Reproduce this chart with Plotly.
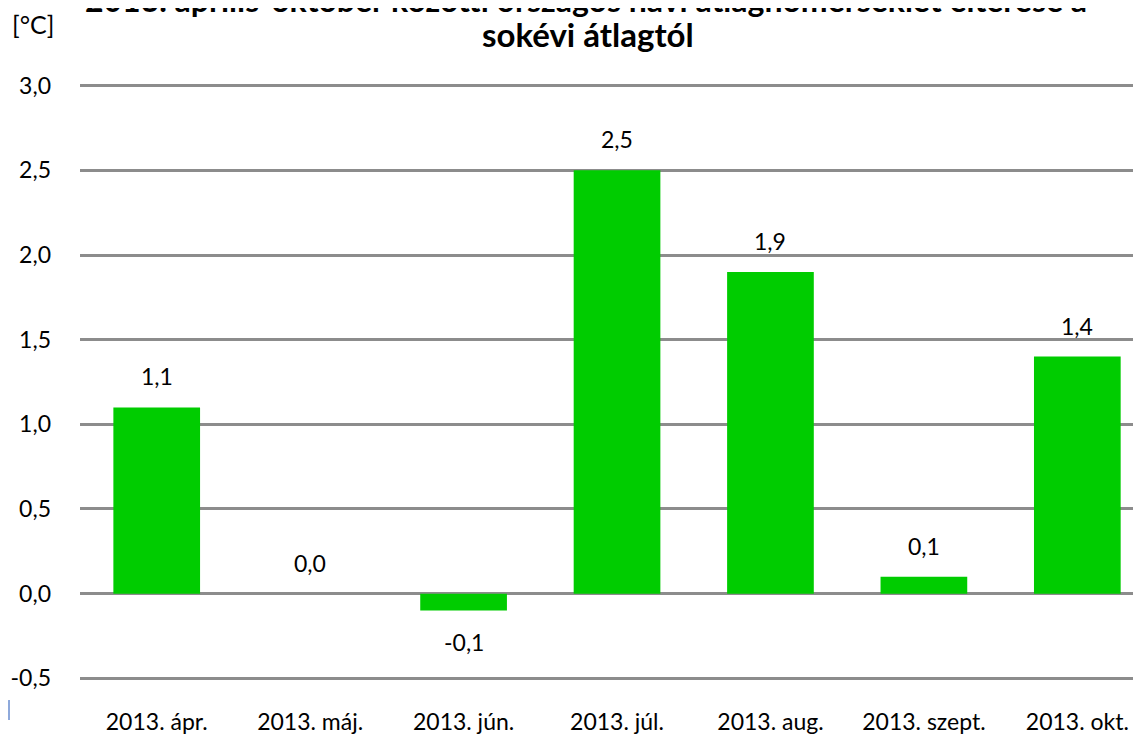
import plotly.graph_objects as go

categories = ["2013. ápr.", "2013. máj.", "2013. jún.", "2013. júl.", "2013. aug.", "2013. szept.", "2013. okt."]
values = [1.1, 0.0, -0.1, 2.5, 1.9, 0.1, 1.4]
labels = ["1,1", "0,0", "-0,1", "2,5", "1,9", "0,1", "1,4"]
y_ticks = [-0.5, 0.0, 0.5, 1.0, 1.5, 2.0, 2.5, 3.0]
y_ticktext = ["-0,5", "0,0", "0,5", "1,0", "1,5", "2,0", "2,5", "3,0"]
title_line1 = "2013. április-október közötti országos havi átlaghőmérséklet eltérése a"
title_line2 = "sokévi átlagtól"
unit_label = "[°C]"

FONT = "Lato"
GREEN = "#00CC00"
GRID = "#8C8C8C"

fig = go.Figure()
fig.add_trace(go.Bar(
    x=list(range(len(categories))), y=values,
    marker=dict(color=GREEN, line=dict(width=0)),
    width=0.565, hoverinfo="skip",
))

for i, (v, t) in enumerate(zip(values, labels)):
    if v >= 0:
        fig.add_annotation(x=i, y=v, xref="x", yref="y", text=t, showarrow=False,
                           yanchor="bottom", yshift=15,
                           font=dict(family=FONT, size=23, color="black"))
    else:
        fig.add_annotation(x=i, y=v, xref="x", yref="y", text=t, showarrow=False,
                           yanchor="top", yshift=-15,
                           font=dict(family=FONT, size=23, color="black"))

fig.add_annotation(xref="paper", yref="paper", x=0.477, y=1.0, yshift=85,
                   text="<b>" + title_line1 + "</b>",
                   showarrow=False, xanchor="center", yanchor="middle",
                   font=dict(family=FONT, size=32, color="black"))
fig.add_annotation(xref="paper", yref="paper", x=0.479, y=1.0, yshift=50,
                   text="<b>" + title_line2 + "</b>",
                   showarrow=False, xanchor="center", yanchor="middle",
                   font=dict(family=FONT, size=33, color="black"))
fig.add_annotation(xref="paper", yref="paper", x=-0.066, y=1.0, yshift=60,
                   text=unit_label, showarrow=False, xanchor="left", yanchor="middle",
                   font=dict(family=FONT, size=25, color="black"))

fig.add_shape(type="line", xref="paper", yref="paper",
              x0=-0.0669, x1=-0.0669, y0=-0.0336, y1=-0.0671,
              line=dict(color="#8EA9DB", width=2))

fig.update_layout(
    width=1133, height=731,
    margin=dict(l=72, r=0, t=76, b=59),
    paper_bgcolor="white", plot_bgcolor="white",
    separators=", ",
    showlegend=False,
    font=dict(family=FONT, size=23, color="black"),
    xaxis=dict(
        tickmode="array", tickvals=list(range(len(categories))), ticktext=categories,
        range=[-0.5, 6.415], showgrid=False, zeroline=False, showline=False,
        ticks="", ticklabelstandoff=26, tickfont=dict(family=FONT, size=23),
    ),
    yaxis=dict(
        tickmode="array", tickvals=y_ticks, ticktext=y_ticktext,
        range=[-0.51, 3.01], showgrid=True, gridcolor=GRID, gridwidth=3,
        zeroline=True, zerolinecolor=GRID, zerolinewidth=3, showline=False,
        ticks="", ticklabelstandoff=28, tickfont=dict(family=FONT, size=23),
    ),
)

fig.write_html("out.html")
